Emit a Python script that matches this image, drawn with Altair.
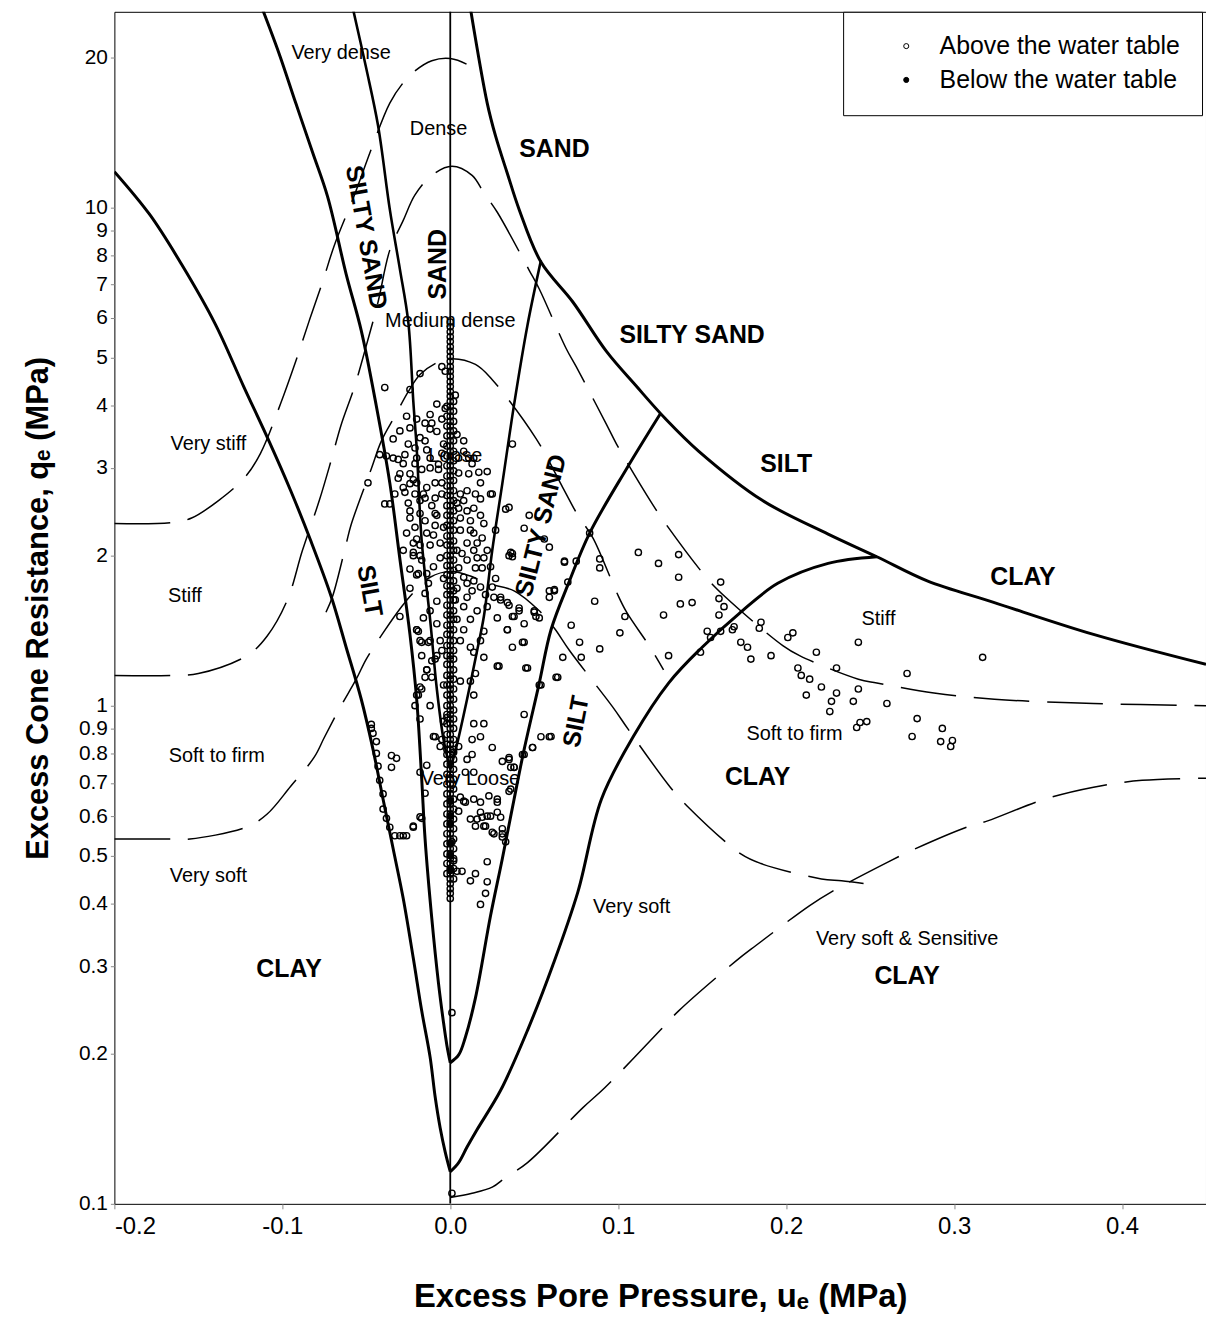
import altair as alt
import pandas as pd

FONT = "Liberation Sans, Arial, sans-serif"

# ---------------- boundary curves (solid) : x = u_e (MPa), q = q_e (MPa)
L0_X = [-0.200, -0.179, -0.160, -0.140, -0.123, -0.108, -0.095, -0.083, -0.071, -0.062, -0.053,
        -0.046, -0.040, -0.034, -0.028, -0.022, -0.017, -0.012, -0.009, -0.006, -0.003, 0.0]
L0_Q = [11.8, 9.68, 7.69, 5.84, 4.37, 3.40, 2.70, 2.14, 1.66, 1.31, 1.03,
        0.817, 0.649, 0.516, 0.410, 0.311, 0.244, 0.197, 0.164, 0.142, 0.127, 0.116]

R0_X = [0.0, 0.005, 0.010, 0.016, 0.030, 0.046, 0.061, 0.076, 0.090, 0.109, 0.130, 0.150, 0.172, 0.195, 0.225, 0.254]
R0_Q = [0.116, 0.121, 0.130, 0.141, 0.169, 0.223, 0.301, 0.423, 0.649, 0.867, 1.11, 1.31, 1.53, 1.76, 1.93, 1.99]

H_X = [0.012, 0.022, 0.027, 0.034, 0.041, 0.054, 0.073, 0.093, 0.111, 0.128, 0.148, 0.186, 0.225, 0.254, 0.284, 0.324, 0.383, 0.450]
H_Q = [25.1, 16.2, 13.9, 11.7, 9.91, 7.77, 6.46, 5.14, 4.37, 3.77, 3.24, 2.58, 2.21, 1.99, 1.78, 1.61, 1.39, 1.21]

L1_X = [-0.112, -0.102, -0.092, -0.082, -0.073, -0.062, -0.053, -0.044, -0.036, -0.030, -0.024, -0.020,
        -0.017, -0.015, -0.011, -0.007, -0.004, -0.002, 0.0]
L1_Q = [25.1, 20.4, 16.2, 12.9, 10.5, 7.35, 5.66, 3.99, 2.80, 1.97, 1.39, 1.03,
        0.712, 0.540, 0.374, 0.277, 0.231, 0.208, 0.192]

R1_X = [0.125, 0.105, 0.083, 0.071, 0.060, 0.053, 0.044, 0.038, 0.031, 0.024, 0.015, 0.009, 0.005, 0.0]
R1_Q = [3.85, 2.99, 2.22, 1.78, 1.42, 1.11, 0.817, 0.649, 0.493, 0.379, 0.259, 0.216, 0.199, 0.192]

L2_X = [-0.058, -0.050, -0.043, -0.036, -0.030, -0.025, -0.022, -0.020, -0.017, -0.012, -0.008, -0.004, 0.0]
L2_Q = [25.1, 19.0, 14.6, 9.91, 7.52, 5.89, 4.08, 3.29, 2.14, 1.49, 1.08, 0.855, 0.745]

R2_X = [0.054, 0.046, 0.038, 0.031, 0.025, 0.020, 0.016, 0.010, 0.004, 0.0]
R2_Q = [7.83, 5.81, 4.02, 2.79, 2.05, 1.51, 1.29, 1.03, 0.836, 0.745]

V_X = [0.0, 0.0]
V_Q = [0.1, 25.0]

# ---------------- consistency / density contours (dashed)
A_X = [-0.200, -0.166, -0.154, -0.138, -0.122, -0.113, -0.101, -0.092, -0.084, -0.076, -0.069, -0.057,
       -0.047, -0.036, -0.028, -0.021, -0.011, 0.0, 0.012, 0.017]
A_Q = [2.32, 2.33, 2.38, 2.58, 2.88, 3.21, 4.04, 4.91, 5.92, 7.09, 8.40, 10.6,
       13.1, 16.2, 17.8, 18.8, 19.7, 19.9, 19.2, 18.6]

B_X = [-0.200, -0.166, -0.150, -0.121, -0.109, -0.097, -0.088, -0.078, -0.071, -0.065, -0.057, -0.050,
       -0.043, -0.036, -0.028, -0.021, -0.011, 0.001, 0.013, 0.020, 0.028, 0.047, 0.053, 0.069, 0.075,
       0.093, 0.099, 0.120, 0.127, 0.153, 0.164, 0.198, 0.208, 0.243, 0.254, 0.288, 0.324, 0.383, 0.450]
B_Q = [1.15, 1.15, 1.16, 1.26, 1.38, 1.63, 2.05, 2.58, 3.10, 3.66, 4.37, 5.28,
       6.46, 8.21, 9.42, 10.6, 11.6, 12.1, 11.6, 10.7, 9.78, 7.48, 6.86, 5.21, 4.79,
       3.67, 3.35, 2.55, 2.35, 1.80, 1.65, 1.32, 1.26, 1.13, 1.11, 1.06, 1.03, 1.01, 1.00]

C_X = [-0.200, -0.166, -0.155, -0.121, -0.109, -0.095, -0.081, -0.075, -0.066, -0.056, -0.050, -0.040,
       -0.029, -0.021, -0.012, 0.0, 0.012, 0.022, 0.038, 0.053, 0.062, 0.071, 0.097, 0.106, 0.131,
       0.141, 0.173, 0.185, 0.221, 0.233, 0.247]
C_Q = [0.540, 0.540, 0.540, 0.571, 0.606, 0.689, 0.788, 0.863, 0.986, 1.13, 1.24, 1.40,
       1.58, 1.70, 1.81, 1.86, 1.82, 1.76, 1.70, 1.55, 1.43, 1.29, 0.991, 0.896, 0.686,
       0.629, 0.504, 0.482, 0.449, 0.445, 0.439]

D_X = [-0.074, -0.070, -0.062, -0.059, -0.047, -0.041, -0.033, -0.025, -0.018, -0.009, 0.0,
       0.015, 0.025, 0.051, 0.067, 0.076, 0.085, 0.099, 0.105, 0.119, 0.127]
D_Q = [1.54, 1.66, 2.11, 2.31, 2.99, 3.40, 3.81, 4.27, 4.62, 4.86, 4.97,
       4.84, 4.51, 3.44, 2.74, 2.41, 2.17, 1.69, 1.54, 1.31, 1.18]

E_X = [0.0, 0.013, 0.025, 0.033, 0.046, 0.079, 0.092, 0.125, 0.136, 0.170, 0.182, 0.214, 0.227,
       0.262, 0.273, 0.308, 0.320, 0.354, 0.383, 0.412, 0.450]
E_Q = [0.103, 0.105, 0.108, 0.113, 0.121, 0.156, 0.171, 0.223, 0.244, 0.307, 0.330, 0.397, 0.423,
       0.488, 0.509, 0.571, 0.587, 0.649, 0.686, 0.708, 0.715]

# ---------------- measured points
COL_Q = [5.89, 5.76, 5.63, 5.50, 5.38, 5.25, 5.14, 5.02, 4.91, 4.79, 4.69, 4.58, 4.47, 4.37, 4.27, 4.18,
         4.08, 3.99, 3.90, 3.81, 3.72, 3.64, 3.56, 3.48, 3.40, 3.32, 3.24, 3.17, 3.10, 3.03, 2.96, 2.89,
         2.83, 2.76, 2.70, 2.64, 2.58, 2.52, 2.46, 2.41, 2.35, 2.30, 2.25, 2.19, 2.14, 2.10, 2.05, 2.00,
         1.96, 1.91, 1.87, 1.83, 1.78, 1.74, 1.70, 1.67, 1.63, 1.59, 1.55, 1.52, 1.49, 1.45, 1.42, 1.39,
         1.35, 1.32, 1.29, 1.26, 1.24, 1.21, 1.18, 1.15, 1.13, 1.10, 1.08, 1.05, 1.03, 1.00, 0.98, 0.96,
         0.94, 0.92, 0.90, 0.875, 0.855, 0.836, 0.817, 0.798, 0.780, 0.763, 0.745, 0.728, 0.712, 0.696,
         0.680, 0.665, 0.649, 0.635, 0.620, 0.606, 0.592, 0.579, 0.566, 0.553, 0.540, 0.528, 0.516, 0.504,
         0.493, 0.482, 0.471, 0.460, 0.449, 0.439, 0.429, 0.420, 0.410]
COL_L_Q = [3.99, 3.81, 3.64, 3.48, 3.32, 3.17, 3.03, 2.89, 2.76, 2.64, 2.52, 2.41, 2.30, 2.19, 2.10, 2.00,
           1.91, 1.83, 1.74, 1.67, 1.59, 1.52, 1.45, 1.39, 1.32, 1.26, 1.21, 1.15, 1.10, 1.05, 1.00, 0.96,
           0.92, 0.875, 0.836, 0.798, 0.763, 0.728, 0.696, 0.665, 0.635, 0.606, 0.579, 0.553, 0.528, 0.504,
           0.482, 0.460]
COL_R_Q = [4.08, 3.90, 3.72, 3.56, 3.40, 3.24, 3.10, 2.96, 2.83, 2.70, 2.58, 2.46, 2.35, 2.25, 2.14, 2.05,
           1.96, 1.87, 1.78, 1.70, 1.63, 1.55, 1.49, 1.42, 1.35, 1.29, 1.24, 1.18, 1.13, 1.08, 1.03, 0.98,
           0.94, 0.90, 0.855, 0.817, 0.780, 0.745, 0.712, 0.680, 0.649, 0.620, 0.592, 0.566, 0.540, 0.516,
           0.493, 0.471, 0.449]

TOP_PTS = [(-0.039, 4.35), (-0.018, 4.64), (-0.024, 4.31), (-0.005, 4.79), (-0.003, 4.69), (-0.008, 4.03),
           (-0.012, 3.84), (-0.026, 3.81), (-0.020, 3.76), (-0.024, 3.61), (-0.015, 3.69), (-0.011, 3.69),
           (-0.005, 3.76), (-0.012, 3.59), (-0.030, 3.56), (-0.034, 3.43), (-0.025, 3.35), (-0.021, 3.29),
           (-0.015, 3.40), (-0.014, 3.26), (-0.004, 3.35), (-0.005, 3.21), (-0.012, 3.14), (-0.020, 3.14),
           (-0.027, 3.19), (-0.042, 3.19), (-0.038, 3.17), (-0.034, 3.14), (-0.031, 3.12), (-0.028, 3.06),
           (-0.021, 3.06), (-0.017, 2.98), (-0.012, 3.00), (-0.007, 2.98), (0.005, 3.14), (0.008, 3.24),
           (0.011, 3.14), (0.013, 3.06), (0.017, 2.94), (0.011, 2.92), (0.005, 2.93), (-0.024, 2.92),
           (-0.030, 2.92), (-0.024, 2.79), (-0.020, 2.80), (-0.014, 2.74), (-0.009, 2.80), (-0.005, 2.80),
           (-0.021, 2.66), (-0.027, 2.68), (-0.025, 2.55), (-0.018, 2.58), (-0.015, 2.61), (-0.009, 2.61),
           (-0.005, 2.66), (0.006, 2.66), (0.010, 2.70), (0.015, 2.66), (0.018, 2.60), (0.014, 2.49),
           (0.010, 2.46), (0.005, 2.49), (0.008, 2.58), (-0.024, 2.46), (-0.018, 2.43), (-0.009, 2.43),
           (-0.024, 2.38), (-0.015, 2.35), (-0.009, 2.30), (-0.004, 2.28), (-0.021, 2.28), (-0.014, 2.22),
           (-0.020, 2.16), (0.006, 2.38), (0.012, 2.35), (0.018, 2.41), (0.020, 2.32), (0.006, 2.25),
           (0.014, 2.22), (0.019, 2.17), (0.025, 2.66), (-0.049, 2.80), (-0.039, 2.54), (-0.036, 2.54),
           (0.035, 2.50), (0.037, 3.35), (0.014, 3.14), (0.027, 2.25), (0.033, 2.48), (0.024, 2.66)]

CORE_PTS = [(-0.031, 2.86), (-0.028, 2.74), (-0.033, 2.66), (-0.022, 2.84), (-0.016, 2.66), (-0.011, 2.52),
            (-0.008, 2.41), (-0.026, 2.22), (-0.022, 2.12), (-0.028, 2.05), (-0.017, 1.96), (-0.024, 1.88),
            (-0.010, 1.90), (-0.006, 1.98), (-0.013, 1.76), (-0.024, 1.72), (-0.008, 1.62), (-0.016, 1.50),
            (-0.008, 1.46), (0.004, 2.05), (0.012, 2.25), (0.016, 2.12), (0.022, 2.05), (0.024, 1.90),
            (0.004, 1.72), (0.013, 1.70), (0.022, 1.58), (0.027, 1.80), (0.004, 2.55), (0.018, 2.80),
            (0.022, 2.95), (-0.007, 3.05), (-0.018, 3.45), (-0.008, 3.55), (-0.003, 3.95), (0.004, 3.50),
            (0.008, 3.40), (0.003, 4.20), (-0.010, 2.20), (-0.004, 1.80)]

MID_PTS = [(-0.018, 2.10), (-0.022, 2.00), (-0.018, 2.00), (-0.012, 2.10), (-0.006, 2.12), (0.010, 2.12),
           (0.014, 2.05), (0.016, 1.98), (0.020, 1.98), (0.019, 1.89), (0.015, 1.89), (0.010, 1.96),
           (0.007, 2.02), (0.005, 1.89), (0.008, 1.81), (0.010, 1.76), (0.014, 1.78), (0.018, 1.73),
           (0.021, 1.67), (0.025, 1.73), (0.026, 1.65), (0.030, 1.63), (0.035, 1.59), (0.028, 1.50),
           (0.034, 1.42), (0.038, 1.51), (0.044, 1.46), (0.041, 1.57), (0.050, 1.54), (0.053, 1.50),
           (0.037, 1.31), (0.044, 1.34), (0.028, 1.20), (0.046, 1.19), (0.054, 1.10), (0.020, 1.41),
           (0.018, 1.35), (0.014, 1.28), (0.020, 1.25), (0.012, 1.31), (0.006, 1.35), (0.008, 1.42),
           (0.004, 1.49), (0.012, 1.49), (0.016, 1.55), (0.008, 1.58), (0.003, 1.63), (0.010, 1.65),
           (-0.014, 1.84), (-0.020, 1.83), (-0.015, 1.68), (-0.012, 1.55), (-0.020, 1.42), (-0.018, 1.35),
           (-0.012, 1.35), (-0.006, 1.35), (-0.005, 1.29), (-0.008, 1.26), (-0.017, 1.26), (-0.009, 1.24),
           (-0.011, 1.14), (-0.014, 1.18), (-0.015, 1.14), (-0.018, 1.09), (-0.020, 1.05), (-0.021, 1.00),
           (-0.012, 1.00), (-0.018, 0.94), (-0.004, 1.10), (0.006, 1.12), (0.012, 1.12), (0.015, 1.16),
           (0.014, 1.05), (-0.004, 0.93), (-0.005, 0.855), (-0.009, 0.866), (0.002, 0.806), (0.005, 0.828),
           (0.013, 0.798), (0.010, 0.780), (0.014, 0.92), (0.020, 0.92), (0.018, 0.866), (0.013, 0.855),
           (0.025, 0.824), (0.031, 0.773), (0.035, 0.780), (0.036, 0.752), (0.038, 0.752), (0.044, 0.798),
           (0.049, 0.824), (0.054, 0.866), (0.059, 0.866), (0.044, 0.96), (0.067, 1.25), (0.063, 1.14),
           (0.059, 1.70), (0.062, 1.70), (0.068, 1.94), (0.070, 1.77), (0.059, 2.08), (0.035, 2.00),
           (0.037, 2.02), (-0.018, 0.735), (0.009, 0.735), (0.014, 0.735), (-0.022, 2.03), (-0.019, 1.84),
           (-0.020, 1.42), (-0.017, 1.34)]

LEFT_U_PTS = [(-0.047, 0.917), (-0.044, 0.847), (-0.044, 0.802), (-0.043, 0.756), (-0.042, 0.708),
              (-0.040, 0.665), (-0.040, 0.620), (-0.038, 0.594), (-0.036, 0.570), (-0.033, 0.548),
              (-0.030, 0.548), (-0.026, 0.548), (-0.022, 0.570), (-0.017, 0.594), (-0.035, 0.794),
              (-0.032, 0.784), (-0.035, 0.752), (-0.014, 0.759), (-0.015, 0.667), (-0.010, 0.867),
              (-0.006, 0.828), (-0.002, 0.817), (-0.030, 1.51), (-0.019, 1.41), (-0.013, 1.34),
              (-0.011, 1.23), (-0.014, 1.18), (-0.017, 1.08), (-0.019, 1.05), (-0.002, 0.946),
              (-0.046, 0.88), (-0.047, 0.90)]

BOTTOM_PTS = [(0.006, 0.655), (0.009, 0.640), (0.014, 0.649), (0.018, 0.640), (0.023, 0.659), (0.028, 0.649),
              (0.035, 0.673), (0.018, 0.611), (0.019, 0.597), (0.024, 0.600), (0.028, 0.611), (0.030, 0.597),
              (0.015, 0.573), (0.021, 0.573), (0.026, 0.553), (0.031, 0.553), (-0.018, 0.598), (-0.022, 0.573),
              (-0.028, 0.548), (0.005, 0.614), (0.008, 0.643), (0.028, 0.640), (0.016, 0.592), (0.022, 0.600),
              (0.012, 0.592), (0.020, 0.573), (0.025, 0.557), (0.031, 0.566), (0.031, 0.545), (0.033, 0.533),
              (0.001, 0.533), (0.002, 0.488), (0.004, 0.465), (0.007, 0.465), (0.012, 0.445), (0.015, 0.460),
              (0.022, 0.486), (0.022, 0.443), (0.021, 0.420), (0.018, 0.399), (0.001, 0.242), (0.001, 0.105)]

RIGHT_PTS = [(0.047, 2.41), (0.044, 2.27), (0.056, 2.16), (0.036, 2.03), (0.037, 1.99), (0.068, 1.95),
             (0.075, 1.95), (0.083, 2.22), (0.089, 1.97), (0.089, 1.89), (0.112, 2.03), (0.124, 1.93),
             (0.136, 2.01), (0.136, 1.81), (0.161, 1.77), (0.160, 1.64), (0.163, 1.58), (0.160, 1.52),
             (0.137, 1.60), (0.144, 1.61), (0.127, 1.52), (0.086, 1.62), (0.104, 1.51), (0.059, 1.65),
             (0.062, 1.71), (0.030, 1.65), (0.034, 1.61), (0.041, 1.55), (0.037, 1.51), (0.034, 1.42),
             (0.050, 1.55), (0.051, 1.51), (0.072, 1.45), (0.077, 1.34), (0.101, 1.40), (0.089, 1.30),
             (0.078, 1.25), (0.064, 1.14), (0.053, 1.10), (0.043, 1.34), (0.029, 1.20), (0.045, 1.19),
             (0.130, 1.26), (0.153, 1.41), (0.155, 1.37), (0.161, 1.41), (0.168, 1.42), (0.169, 1.44),
             (0.173, 1.34), (0.177, 1.31), (0.179, 1.24), (0.149, 1.28), (0.185, 1.47), (0.184, 1.43),
             (0.191, 1.26), (0.201, 1.37), (0.204, 1.40), (0.218, 1.28), (0.243, 1.34), (0.207, 1.19),
             (0.209, 1.15), (0.214, 1.13), (0.221, 1.09), (0.230, 1.06), (0.230, 1.19), (0.212, 1.05),
             (0.227, 1.02), (0.226, 0.973), (0.240, 1.02), (0.243, 1.08), (0.260, 1.01), (0.272, 1.16),
             (0.278, 0.942), (0.275, 0.867), (0.293, 0.900), (0.292, 0.847), (0.299, 0.851), (0.298, 0.828),
             (0.317, 1.25), (0.242, 0.904), (0.244, 0.925), (0.248, 0.929), (0.060, 0.867), (0.049, 0.824),
             (0.043, 0.798), (0.035, 0.787), (0.038, 0.752), (0.036, 0.680)]

BELOW_PTS = [(0.0, 0.643), (0.0, 0.579), (0.0, 0.467), (0.0, 0.530), (0.0, 0.600), (0.0, 0.500)]

# ---------------- region labels
LAB_TEXT = ["Very dense", "Dense", "Medium dense", "Loose", "Very stiff", "Stiff", "Soft to firm",
            "Very soft", "Stiff", "Soft to firm", "Very Loose", "Very soft", "Very soft & Sensitive"]
LAB_X = [-0.065, -0.007, 0.0, 0.003, -0.144, -0.158, -0.139, -0.144, 0.255, 0.205, 0.012, 0.108, 0.272]
LAB_Q = [20.4, 14.4, 5.92, 3.17, 3.35, 1.66, 0.791, 0.454, 1.49, 0.879, 0.712, 0.395, 0.340]

BOLD_TEXT = ["SAND", "SILTY SAND", "SAND", "SILTY SAND", "SILT", "SILTY SAND", "SILT", "CLAY",
             "SILT", "CLAY", "CLAY", "CLAY"]
BOLD_X = [0.062, -0.050, -0.007, 0.144, 0.200, 0.054, -0.048, 0.341, 0.075, 0.183, -0.096, 0.272]
BOLD_Q = [13.1, 8.71, 7.69, 5.55, 3.05, 2.30, 1.70, 1.81, 0.929, 0.718, 0.296, 0.286]
BOLD_ANGLE = [0, 80, 270, 0, 0, 284, 80, 0, 281, 0, 0, 0]

LEGEND_LABELS = ["Above the water table", "Below the water table"]

# ---------------- build tables
rows = []
for name, style, xs, qs in [("L0", "thick", L0_X, L0_Q), ("R0", "thick", R0_X, R0_Q), ("H", "thick", H_X, H_Q),
                            ("L1", "thick", L1_X, L1_Q), ("R1", "thick", R1_X, R1_Q),
                            ("L2", "mid", L2_X, L2_Q), ("R2", "mid", R2_X, R2_Q), ("V", "thin", V_X, V_Q),
                            ("A", "dash", A_X, A_Q), ("B", "dash", B_X, B_Q), ("C", "dash", C_X, C_Q),
                            ("D", "dash", D_X, D_Q), ("E", "dash", E_X, E_Q)]:
    for i, (x, q) in enumerate(zip(xs, qs)):
        rows.append({"curve": name, "style": style, "i": i, "x": x, "q": q})
curves = pd.DataFrame(rows)

pts = []
for q in COL_Q:
    pts.append({"x": 0.0, "q": q, "kind": LEGEND_LABELS[0]})
for q in COL_L_Q:
    pts.append({"x": -0.002, "q": q, "kind": LEGEND_LABELS[0]})
for q in COL_R_Q:
    pts.append({"x": 0.002, "q": q, "kind": LEGEND_LABELS[0]})
for group in (TOP_PTS, CORE_PTS, MID_PTS, LEFT_U_PTS, BOTTOM_PTS, RIGHT_PTS):
    for x, q in group:
        pts.append({"x": x, "q": q, "kind": LEGEND_LABELS[0]})
for x, q in BELOW_PTS:
    pts.append({"x": x, "q": q, "kind": LEGEND_LABELS[1]})
points = pd.DataFrame(pts)

labels = pd.DataFrame({"x": LAB_X, "q": LAB_Q, "text": LAB_TEXT})
bold = pd.DataFrame({"x": BOLD_X, "q": BOLD_Q, "text": BOLD_TEXT, "angle": BOLD_ANGLE})

# ---------------- scales / axes
xscale = alt.Scale(domain=[-0.2, 0.45], nice=False, zero=False)
yscale = alt.Scale(type="log", domain=[0.1, 24.7], nice=False)

xaxis = alt.Axis(values=[-0.2, -0.1, 0.0, 0.1, 0.2, 0.3, 0.4],
                 labelExpr="replace(format(datum.value, '.1f'), '\u2212', '-')",
                 labelFont=FONT, labelFontSize=24, labelColor="black", labelPadding=6,
                 tickSize=5, tickColor="#888888", domain=False, grid=False,
                 title="Excess Pore Pressure, u\u2091 (MPa)", titleFont=FONT, titleFontSize=33,
                 titleFontWeight="bold", titleColor="black", titlePadding=42)
yaxis = alt.Axis(values=[0.1, 0.2, 0.3, 0.4, 0.5, 0.6, 0.7, 0.8, 0.9, 1, 2, 3, 4, 5, 6, 7, 8, 9, 10, 20],
                 format="~g", labelFont=FONT, labelFontSize=21, labelColor="black", labelPadding=3,
                 tickSize=4, tickColor="#888888", domain=False, grid=False,
                 title="Excess Cone Resistance, q\u2091 (MPa)", titleFont=FONT, titleFontSize=31,
                 titleFontWeight="bold", titleColor="black", titlePadding=24)

X = alt.X("x:Q", scale=xscale, axis=xaxis)
Y = alt.Y("q:Q", scale=yscale, axis=yaxis)

base_lines = alt.Chart(curves)

thick = base_lines.transform_filter(alt.datum.style == "thick").mark_line(
    color="black", strokeWidth=3, clip=True, interpolate="catmull-rom").encode(
    x=X, y=Y, detail="curve:N", order="i:Q")
mid = base_lines.transform_filter(alt.datum.style == "mid").mark_line(
    color="black", strokeWidth=2.6, clip=True, interpolate="catmull-rom").encode(
    x=X, y=Y, detail="curve:N", order="i:Q")
thin = base_lines.transform_filter(alt.datum.style == "thin").mark_line(
    color="black", strokeWidth=1.8, clip=True).encode(x=X, y=Y, detail="curve:N", order="i:Q")
dash = base_lines.transform_filter(alt.datum.style == "dash").mark_line(
    color="black", strokeWidth=1.5, strokeDash=[56, 18], clip=True, interpolate="catmull-rom").encode(
    x=X, y=Y, detail="curve:N", order="i:Q")

txt = alt.Chart(labels).mark_text(font=FONT, fontSize=20, color="black", align="center",
                                  baseline="middle").encode(x=X, y=Y, text="text:N")
btxt = alt.Chart(bold).mark_text(font=FONT, fontSize=25, fontWeight="bold", color="black",
                                 align="center", baseline="middle").encode(
    x=X, y=Y, text="text:N", angle=alt.Angle("angle:Q", scale=None))

scatter = alt.Chart(points).mark_point(shape="circle", filled=True, size=40, stroke="black",
                                       strokeWidth=1.4, opacity=1, clip=True).encode(
    x=X, y=Y,
    fill=alt.Fill("kind:N", scale=alt.Scale(domain=LEGEND_LABELS, range=["transparent", "black"]),
                  legend=alt.Legend(title=None, orient="none", legendX=733, legendY=0,
                                    direction="vertical", strokeColor="black", fillColor="white",
                                    padding=22, labelFont=FONT, labelFontSize=25, labelColor="black",
                                    labelLimit=500, symbolType="circle", symbolSize=26,
                                    symbolStrokeColor="black", symbolStrokeWidth=1,
                                    symbolOffset=29, labelOffset=21, rowPadding=8, cornerRadius=0)))

chart = alt.layer(thick, mid, thin, dash, txt, btxt, scatter).properties(
    width=1098, height=1199,
    autosize=alt.AutoSizeParams(type="none"),
    padding={"left": 107, "top": 0, "right": 0, "bottom": 112},
    background="white",
).configure_view(stroke="black", strokeWidth=1)

chart.save("out.html", embed_options={"renderer": "svg", "actions": False})
